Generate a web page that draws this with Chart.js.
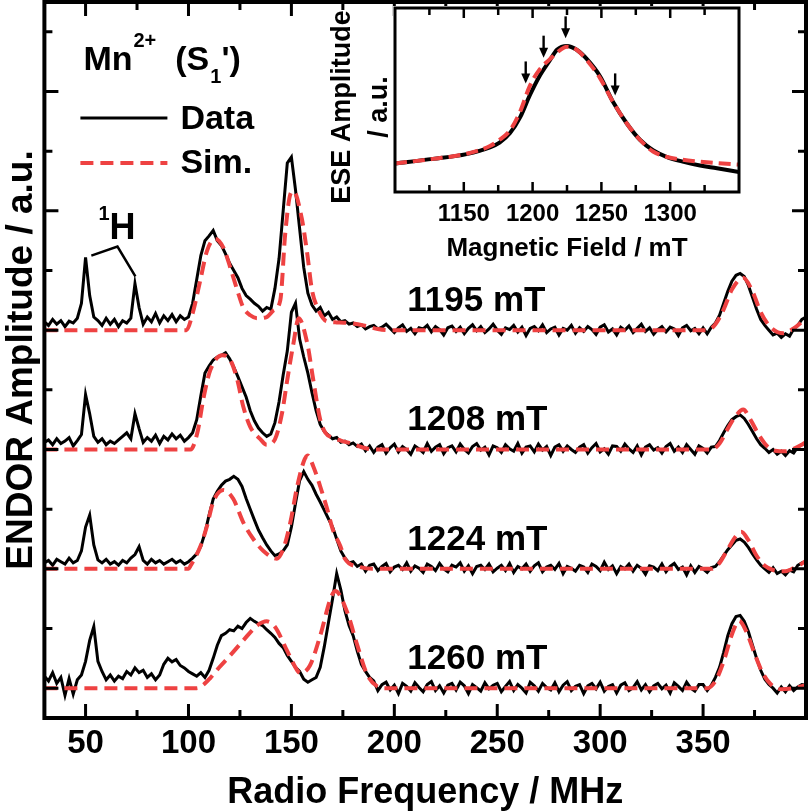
<!DOCTYPE html>
<html>
<head>
<meta charset="utf-8">
<script src="https://cdn.jsdelivr.net/npm/chart.js@4/dist/chart.umd.min.js"></script>
<style>
  body { margin: 0; background: #fff; }
  #wrap { position: relative; width: 812px; height: 812px; }
  #main { position: absolute; left: 0; top: 0; }
  #inset { position: absolute; left: 320px; top: 0; }
</style>
</head>
<body>
<div id="wrap">
  <canvas id="main" width="812" height="812"></canvas>
  <canvas id="inset" width="440" height="270"></canvas>
</div>
<script>
// ENDOR spectra, sampled from 30 MHz every 2 MHz (arbitrary units, 100 = one minor tick)
const dataStart = 30;
const dataStep = 2;

const endor1195 = [
  14, 8, 18, 10, 16, 6, 15, 12, 20, 45,
  122, 58, 22, 16, 8, 20, 10, 18, 6, 16,
  12, 20, 78, 38, 10, 22, 14, 28, 12, 24,
  16, 26, 14, 24, 18, 22, 45, 85, 125, 150,
  158, 167, 150, 142, 128, 112, 100, 88, 70, 58,
  52, 45, 40, 32, 38, 35, 70, 120, 200, 280,
  290, 235, 170, 105, 62, 42, 32, 38, 24, 30,
  18, 22, 14, 16, 10, 12, 6, 9, 2, 6,
  8, 2, 5, 10, 3, -4, 4, 9, -2, 3,
  -6, 4, 2, 8, -3, 6, 1, -8, 4, 7,
  -2, 5, -6, 3, 9, -1, 6, -4, 2, 10,
  0, -7, 4, 1, 8, -3, 5, -9, 3, 6,
  -1, 9, -4, 2, 5, -8, 3, 0, 8, -5,
  4, -2, 6, 1, -7, 5, 9, -3, 2, -8,
  5, 0, 7, -4, 3, 10, -2, 4, -7, 1,
  6, -3, 5, 2, -9, 4, 8, -1, 3, -6,
  4, -6, 5, 12, 25, 45, 65, 82, 92, 95,
  90, 75, 55, 35, 18, 8, 0, -8, -5, -12,
  -6, -10, 2, 8, 18, 22
];
const endor1208 = [
  12, 16, 8, 18, 10, 14, 20, 6, 15, 25,
  92, 60, 22, 12, 18, 8, 14, 10, 16, 22,
  28, 18, 60, 35, 12, 20, 14, 24, 10, 22,
  16, 26, 18, 24, 14, 20, 28, 50, 90, 128,
  140, 150, 155, 158, 162, 152, 138, 122, 105, 88,
  65, 48, 36, 28, 22, 26, 45, 80, 125, 165,
  230, 245, 185, 155, 128, 95, 65, 42, 30, 24,
  18, 20, 12, 14, 8, 11, 5, 9, -2, 6,
  -5, 4, 8, -6, 3, 9, -4, 5, 0, -8,
  6, 1, -5, 10, -3, 4, 8, -7, 3, 6,
  -4, 9, 0, -6, 5, 10, -1, 4, -9, 6,
  3, -5, 8, 1, -3, 10, -6, 4, 6, -4,
  9, -1, 5, -10, 4, 8, -3, 6, 0, -5,
  4, 8, -6, 3, 10, -4, 1, -8, 6, 5,
  -3, 9, 1, -5, 6, -9, 4, 8, -1, 3,
  -6, 5, 10, -3, 4, -5, 8, 0, -8, 6,
  2, -6, 4, 5, 15, 28, 40, 50, 55, 58,
  52, 42, 30, 18, 8, 2, -5, 0, -8, -3,
  -10, -2, -6, 4, 8, 12
];
const endor1224 = [
  10, 14, 6, 16, 12, 8, 18, 10, 14, 30,
  70, 90, 40, 15, 10, 16, 8, 12, 6, 14,
  10, 18, 24, 37, 14, 8, 16, 10, 14, 8,
  12, 16, 10, 14, 8, 12, 18, 25, 38, 60,
  90, 117, 130, 140, 147, 150, 155, 150, 138, 118,
  100, 82, 65, 52, 40, 30, 22, 25, 30, 40,
  70, 110, 148, 163, 150, 140, 125, 112, 98, 84,
  70, 50, 30, 18, 10, 12, 4, 8, -4, 6,
  8, -3, 4, 9, -5, 3, 6, -1, 10, -4,
  5, 1, -6, 8, 4, -3, 9, 0, -5, 6,
  3, 10, -4, 5, -8, 4, 6, -1, 8, -5,
  1, 6, -3, 9, -6, 4, 0, 8, -4, 5,
  10, -5, 3, 6, -1, 9, -8, 4, 1, -4,
  6, 3, -6, 8, 4, -3, 11, -1, 5, -8,
  4, 0, 8, -4, 6, 1, -9, 5, 3, -3,
  8, -5, 4, 9, -1, 3, -10, 5, -6, 4,
  0, -6, 2, 4, 12, 22, 32, 40, 48, 50,
  45, 36, 25, 15, 6, 0, -6, 2, -8, -4,
  -10, -2, -5, 6, 10, 13
];
const endor1260 = [
  20, 12, 26, 8, 18, -12, 16, -10, 14, 22,
  45, 80, 103, 45, 28, 14, 22, 12, 20, 16,
  28, 22, 34, 26, 30, 18, 24, 14, 22, 40,
  50, 44, 48, 38, 34, 28, 24, 20, 26, 18,
  30, 50, 72, 88, 92, 98, 96, 104, 100, 110,
  117, 112, 108, 105, 98, 92, 85, 75, 68, 55,
  45, 35, 28, 15, 10, 14, 18, 35, 70, 110,
  150, 192, 165, 130, 105, 88, 62, 40, 28, 18,
  12, -4, 6, 10, -3, 5, -9, 8, 3, -5,
  9, 1, -6, 6, 11, -4, 4, -8, 5, 8,
  -3, 10, 4, -9, 6, 1, -5, 9, -1, 5,
  8, -6, 3, 11, -4, 6, 0, -8, 10, 4,
  -5, 8, 1, -3, 9, -6, 5, 11, -4, 3,
  6, -9, 4, 8, -1, 10, -5, 3, 6, -8,
  5, 9, -4, 1, 11, -3, 6, -6, 4, 8,
  -1, 5, -8, 9, 3, -4, 10, 0, -5, 6,
  6, -4, 5, 18, 35, 60, 88, 108, 120, 122,
  112, 95, 72, 50, 30, 15, 6, 0, -8, 2,
  -6, 4, -4, 2, 6, 5
];

// simulations (frequency / amplitude pairs)
const sim1195Freq = [30, 99, 102, 105.7, 109, 113, 117, 120.3, 123.7, 126.6, 130, 133.4, 138, 141.3, 144.6, 147, 149.5, 151, 155, 157.7, 160, 162.6, 167, 172, 178, 185, 192, 198, 352, 356, 360, 364, 369.5, 374, 378, 382, 386, 389, 394, 400];
const sim1195 = [0, 0, 28, 83, 133, 153, 138, 105, 67, 38, 25, 20, 22, 33, 50, 162, 228, 233, 188, 128, 67, 38, 15, 13, 12, 8, 2, 0, 0, 10, 35, 68, 88, 65, 30, 8, -3, -5, 3, 20];
const sim1208Freq = [30, 101, 104.3, 107.4, 110.6, 116.5, 120.3, 123.7, 126.6, 130, 135, 138, 142, 145.5, 148, 151, 153.5, 157.7, 160.6, 164, 166.5, 170, 174, 179, 185, 190, 354, 358, 362, 366, 369.5, 373, 377, 381, 385, 390, 395, 400];
const sim1208 = [0, 0, 28, 88, 133, 158, 150, 117, 72, 38, 17, 8, 17, 62, 117, 178, 220, 178, 117, 50, 28, 20, 15, 10, 3, 0, 0, 10, 35, 57, 67, 50, 25, 6, -2, -3, 3, 12];
const sim1224Freq = [30, 100, 101, 105.8, 109, 112, 117, 121.8, 126.6, 131.5, 136.4, 143, 146, 149.5, 152.8, 156, 157.9, 160.6, 164, 167.4, 170, 173.8, 176, 183.5, 190, 354, 358, 362, 366, 368.5, 372, 376, 380, 384, 390, 395, 400];
const sim1224 = [0, 0, 5, 38, 72, 112, 132, 117, 78, 50, 30, 17, 33, 78, 138, 180, 190, 172, 138, 100, 67, 38, 17, 3, 0, 0, 10, 33, 55, 62, 48, 22, 5, -2, -4, 3, 13];
const sim1260Freq = [30, 104, 107, 110.6, 115, 120.3, 126.6, 133.4, 138, 142, 148, 152.8, 154.4, 159, 164, 169, 171.3, 177, 182, 186.9, 191.7, 196, 352, 356, 360, 364, 367.5, 371, 375, 379, 383, 388, 394, 400];
const sim1260 = [0, 0, 5, 17, 35, 55, 80, 105, 112, 103, 62, 30, 25, 38, 88, 150, 163, 128, 72, 22, 3, 0, 0, 12, 45, 90, 113, 95, 58, 25, 6, -2, 0, 5];

const fieldLabels = ['1195 mT', '1208 mT', '1224 mT', '1260 mT'];
const spectrumOffsets = [600, 400, 200, 0];

const xTicks = [50, 100, 150, 200, 250, 300, 350];
const xMinorTicks = [75, 125, 175, 225, 275, 325, 375];
const yMajorTicks = [0, 200, 400, 600, 800, 1000];
const yMinorTicks = [100, 300, 500, 700, 900, 1100];

// 1H annotation: frequency / amplitude of bracket corners (on the 1195 mT trace)
const hBracketFreq = [52.8, 65.5, 74.2];
const hBracketAmp = [725, 740, 690];

// inset: field-swept echo
const eseField = [1100, 1127.6, 1152, 1169, 1176, 1183.6, 1191, 1198, 1205, 1212.6, 1217.7, 1225, 1232, 1239.5, 1249, 1258.4, 1268.6, 1278, 1287.5, 1297.7, 1309, 1321.7, 1334, 1350];
const eseData = [0.155, 0.18, 0.206, 0.242, 0.268, 0.32, 0.407, 0.526, 0.629, 0.716, 0.773, 0.794, 0.773, 0.722, 0.629, 0.49, 0.371, 0.284, 0.227, 0.19, 0.165, 0.144, 0.129, 0.108];
const eseSim = [0.155, 0.18, 0.208, 0.25, 0.284, 0.335, 0.438, 0.577, 0.665, 0.722, 0.758, 0.789, 0.773, 0.716, 0.619, 0.49, 0.371, 0.284, 0.22, 0.19, 0.175, 0.165, 0.157, 0.149];
const eseTicks = [1150, 1200, 1250, 1300];
const eseMinorTicks = [1125, 1175, 1225, 1275, 1325];
const arrowFields = [1195, 1208, 1224, 1260];
const arrowTips = [0.59, 0.73, 0.835, 0.525];

const RED = 'rgb(238,66,66)';
const FONT = '"Liberation Sans", Arial, sans-serif';
Chart.defaults.font.family = FONT;
Chart.defaults.color = '#000';

function dataPoints(arr, offset) {
  return arr.map((v, i) => ({ x: dataStart + i * dataStep, y: v + offset }));
}
function simPoints(freq, arr, offset) {
  return freq.map((f, i) => ({ x: f, y: arr[i] + offset }));
}

const endorSets = [endor1195, endor1208, endor1224, endor1260];
const simSets = [[sim1195Freq, sim1195], [sim1208Freq, sim1208], [sim1224Freq, sim1224], [sim1260Freq, sim1260]];

const datasets = [];
endorSets.forEach((arr, k) => {
  datasets.push({
    data: dataPoints(arr, spectrumOffsets[k]),
    borderColor: '#000', borderWidth: 3, pointRadius: 0, tension: 0, order: 2
  });
});
simSets.forEach((s, k) => {
  datasets.push({
    data: simPoints(s[0], s[1], spectrumOffsets[k]),
    borderColor: RED, borderWidth: 4, borderDash: [13, 7], pointRadius: 0,
    cubicInterpolationMode: 'monotone', order: 1
  });
});

const mainDecor = {
  id: 'mainDecor',
  afterDatasetsDraw(chart) {
    const { ctx, chartArea: a, scales: { x, y } } = chart;
    ctx.save();
    // inward ticks on all four sides
    ctx.strokeStyle = '#000';
    ctx.lineWidth = 3;
    ctx.beginPath();
    const xt = (list, len) => list.forEach(v => {
      const px = x.getPixelForValue(v);
      ctx.moveTo(px, a.bottom); ctx.lineTo(px, a.bottom - len);
      ctx.moveTo(px, a.top); ctx.lineTo(px, a.top + len);
    });
    const yt = (list, len) => list.forEach(v => {
      const py = y.getPixelForValue(v);
      ctx.moveTo(a.left, py); ctx.lineTo(a.left + len, py);
      ctx.moveTo(a.right, py); ctx.lineTo(a.right - len, py);
    });
    xt(xTicks, 14); xt(xMinorTicks, 8);
    yt(yMajorTicks, 14); yt(yMinorTicks, 8);
    ctx.stroke();
    ctx.lineWidth = 4;
    ctx.strokeRect(a.left, a.top, a.right - a.left, a.bottom - a.top);

    // field labels next to each trace
    ctx.fillStyle = '#000';
    ctx.textAlign = 'left';
    ctx.textBaseline = 'alphabetic';
    ctx.font = 'bold 35px ' + FONT;
    fieldLabels.forEach((t, k) => {
      ctx.fillText(t, x.getPixelForValue(206.3), y.getPixelForValue(spectrumOffsets[k] + 32));
    });

    // Mn2+ (S1') heading
    const big = 'bold 34px ' + FONT, small = 'bold 20px ' + FONT;
    let tx = a.left + 39, base = 70;
    ctx.font = big; ctx.fillText('Mn', tx, base); tx += ctx.measureText('Mn').width + 1;
    ctx.font = small; ctx.fillText('2+', tx, base - 23); tx += ctx.measureText('2+').width + 19;
    ctx.font = big; ctx.fillText('(S', tx, base); tx += ctx.measureText('(S').width + 1;
    ctx.font = small; ctx.fillText('1', tx, base + 13); tx += ctx.measureText('1').width;
    ctx.font = big; ctx.fillText("')", tx, base);

    // legend
    ctx.textBaseline = 'middle';
    ctx.lineWidth = 3;
    ctx.beginPath(); ctx.moveTo(a.left + 36, 118); ctx.lineTo(a.left + 123, 118); ctx.stroke();
    ctx.fillText('Data', a.left + 136, 120);
    ctx.strokeStyle = RED; ctx.lineWidth = 4; ctx.setLineDash([13, 7]);
    ctx.beginPath(); ctx.moveTo(a.left + 36, 163); ctx.lineTo(a.left + 123, 163); ctx.stroke();
    ctx.setLineDash([]);
    ctx.fillText('Sim.', a.left + 136, 164);

    // 1H bracket
    ctx.strokeStyle = '#000'; ctx.lineWidth = 2.5;
    ctx.beginPath();
    hBracketFreq.forEach((f, i) => {
      const px = x.getPixelForValue(f), py = y.getPixelForValue(hBracketAmp[i]);
      if (i === 0) ctx.moveTo(px, py); else ctx.lineTo(px, py);
    });
    ctx.stroke();
    const hx = x.getPixelForValue(hBracketFreq[1]) - 8, hy = y.getPixelForValue(hBracketAmp[1]) - 8;
    ctx.textBaseline = 'alphabetic';
    ctx.font = 'bold 36px ' + FONT; ctx.fillText('H', hx, hy);
    ctx.font = small; ctx.fillText('1', hx - 11, hy - 19);
    ctx.restore();
  }
};

new Chart(document.getElementById('main'), {
  type: 'line',
  data: { datasets: datasets },
  options: {
    responsive: false,
    animation: false,
    layout: { padding: { left: 0, right: 6, top: 2, bottom: 1 } },
    plugins: { legend: { display: false }, tooltip: { enabled: false } },
    scales: {
      x: {
        type: 'linear', min: 30, max: 400,
        afterBuildTicks: s => { s.ticks = xTicks.map(v => ({ value: v })); },
        grid: { display: false, drawTicks: false },
        border: { display: false },
        ticks: { font: { size: 33, weight: 'bold', lineHeight: 1 }, padding: 9, maxRotation: 0, autoSkip: false },
        title: { display: true, text: 'Radio Frequency / MHz', font: { size: 36, weight: 'bold', lineHeight: 1 }, padding: { top: 6, bottom: 0 } }
      },
      y: {
        min: -50, max: 1150,
        grid: { display: false, drawTicks: false },
        border: { display: false },
        ticks: { display: false },
        title: { display: true, text: 'ENDOR Amplitude / a.u.', font: { size: 37, weight: 'bold' }, padding: { top: 0, bottom: 0 } }
      }
    }
  },
  plugins: [mainDecor]
});

// ---------- inset ----------
const insetDecor = {
  id: 'insetDecor',
  beforeDatasetsDraw(chart) {
    const { ctx, chartArea: a } = chart;
    ctx.save();
    ctx.fillStyle = '#fff';
    ctx.fillRect(a.left - 2, a.top - 2, a.right - a.left + 4, a.bottom - a.top + 4);
    ctx.restore();
  },
  afterDatasetsDraw(chart) {
    const { ctx, chartArea: a, scales: { x, y } } = chart;
    ctx.save();
    ctx.strokeStyle = '#000';
    ctx.lineWidth = 2.5;
    ctx.beginPath();
    const xt = (list, len) => list.forEach(v => {
      const px = x.getPixelForValue(v);
      ctx.moveTo(px, a.bottom); ctx.lineTo(px, a.bottom - len);
      ctx.moveTo(px, a.top); ctx.lineTo(px, a.top + len);
    });
    xt(eseTicks, 10); xt(eseMinorTicks, 7);
    ctx.stroke();
    ctx.lineWidth = 3;
    ctx.strokeRect(a.left, a.top, a.right - a.left, a.bottom - a.top);

    // arrows marking the ENDOR field positions
    ctx.fillStyle = '#000';
    ctx.lineWidth = 2.4;
    arrowFields.forEach((f, i) => {
      const px = x.getPixelForValue(f), tip = y.getPixelForValue(arrowTips[i]);
      ctx.beginPath(); ctx.moveTo(px, tip - 22); ctx.lineTo(px, tip - 6); ctx.stroke();
      ctx.beginPath(); ctx.moveTo(px - 4.5, tip - 10); ctx.lineTo(px + 4.5, tip - 10); ctx.lineTo(px, tip); ctx.closePath(); ctx.fill();
    });

    // two-line rotated y title
    ctx.font = 'bold 27px ' + FONT;
    ctx.textAlign = 'center';
    ctx.textBaseline = 'middle';
    const cy = (a.top + a.bottom) / 2 + 7;
    [['ESE Amplitude', a.left - 52], ['/ a.u.', a.left - 15]].forEach(([t, cx]) => {
      ctx.save(); ctx.translate(cx, cy); ctx.rotate(-Math.PI / 2); ctx.fillText(t, 0, 0); ctx.restore();
    });
    ctx.restore();
  }
};

new Chart(document.getElementById('inset'), {
  type: 'line',
  data: {
    datasets: [
      { data: eseField.map((f, i) => ({ x: f, y: eseData[i] })), borderColor: '#000', borderWidth: 4,
        pointRadius: 0, cubicInterpolationMode: 'monotone', order: 2 },
      { data: eseField.map((f, i) => ({ x: f, y: eseSim[i] })), borderColor: RED, borderWidth: 4,
        borderDash: [12, 6], pointRadius: 0, cubicInterpolationMode: 'monotone', order: 1 }
    ]
  },
  options: {
    responsive: false,
    animation: false,
    layout: { padding: { left: 75, right: 21, top: 8, bottom: 8 } },
    plugins: { legend: { display: false }, tooltip: { enabled: false } },
    scales: {
      x: {
        type: 'linear', min: 1100, max: 1350,
        afterBuildTicks: s => { s.ticks = eseTicks.map(v => ({ value: v })); },
        grid: { display: false, drawTicks: false },
        border: { display: false },
        ticks: { font: { size: 24, weight: 'bold', lineHeight: 1 }, padding: 10, maxRotation: 0, autoSkip: false,
                 callback: v => String(v) },
        title: { display: true, text: 'Magnetic Field / mT', font: { size: 26, weight: 'bold', lineHeight: 1 }, padding: { top: 0, bottom: 0 } }
      },
      y: { display: false, min: 0, max: 1 }
    }
  },
  plugins: [insetDecor]
});
</script>
</body>
</html>
